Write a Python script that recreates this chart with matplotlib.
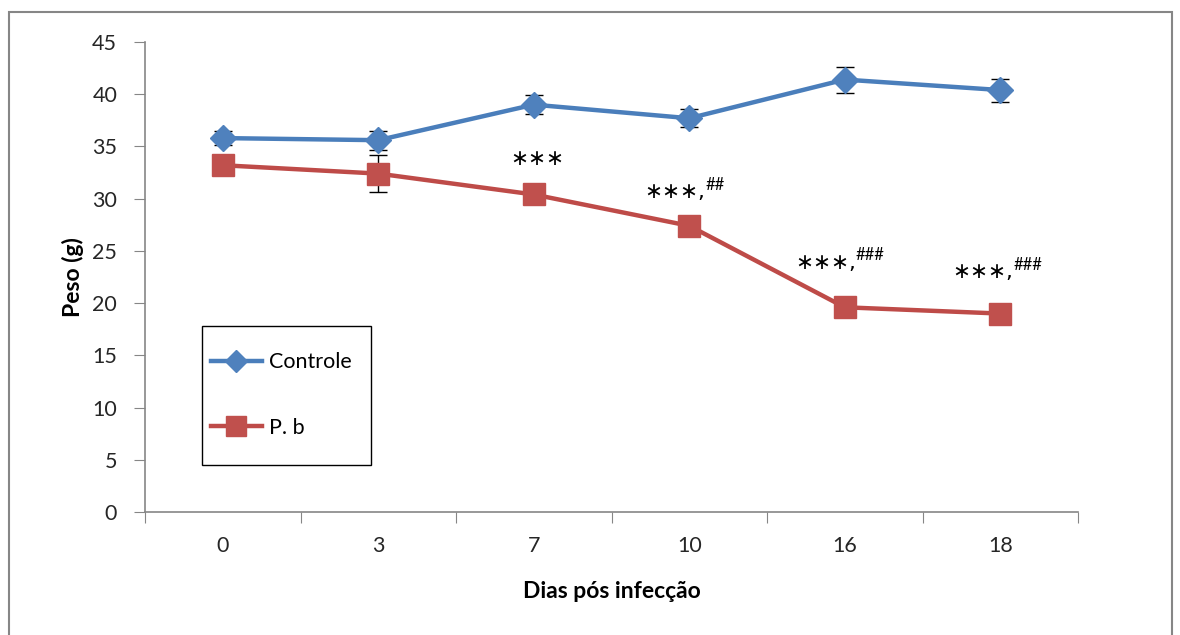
import numpy as np
import matplotlib.pyplot as plt
from matplotlib.patches import Rectangle

# Dados: peso médio (g) por dia pós infecção
dias = ['0', '3', '7', '10', '16', '18']
controle = [35.8, 35.6, 39.0, 37.7, 41.4, 40.4]
controle_err = [0.7, 0.9, 0.9, 0.85, 1.25, 1.1]
pb = [33.2, 32.4, 30.4, 27.4, 19.6, 19.0]
pb_err = [0.6, 1.8, 0.5, 0.6, 0.7, 0.95]

# Marcas de significância para o grupo P. b
estrelas = ['', '', '***', '***,', '***,', '***,']
cerquilhas = ['', '', '', '##', '###', '###']

plt.rcParams['font.family'] = ['Lato', 'DejaVu Sans']

fig = plt.figure(figsize=(11.8, 6.35), dpi=100)
ax = fig.add_axes([145 / 1180, 1 - 512 / 635, 933 / 1180, 470 / 635])

x = np.arange(len(dias))
azul, azul_m = '#4A7EBB', '#4F81BD'
verm, verm_m = '#BE4B48', '#C0504D'

ax.errorbar(x, controle, yerr=controle_err, fmt='none', ecolor='black',
            elinewidth=1, capsize=6.5, capthick=1, zorder=2)
ax.errorbar(x, pb, yerr=pb_err, fmt='none', ecolor='black',
            elinewidth=1, capsize=6.5, capthick=1, zorder=2)
ax.plot(x, controle, color=azul, lw=3.2, marker='D', ms=13,
        mfc=azul_m, mec=azul_m, label='Controle', zorder=3)
ax.plot(x, pb, color=verm, lw=3.2, marker='s', ms=15.5,
        mfc=verm_m, mec=verm_m, label='P. b', zorder=3)

# Asteriscos e cerquilhas acima dos pontos
desloc_est = [(0, 0), (0, 0), (4, 35), (-45, 34), (-49, 44), (-48, 42)]
desloc_cer = [(0, 0), (0, 0), (0, 0), (16, 41), (11, 52), (13, 49)]
for i in range(len(dias)):
    if estrelas[i]:
        ha = 'center' if not cerquilhas[i] else 'left'
        ax.annotate(estrelas[i].replace('*', '\u2217'), xy=(x[i], pb[i]),
                    xytext=desloc_est[i], textcoords='offset pixels',
                    ha=ha, va='center', fontsize=15.5, family='DejaVu Sans')
    if cerquilhas[i]:
        ax.annotate(cerquilhas[i], xy=(x[i], pb[i]),
                    xytext=desloc_cer[i], textcoords='offset pixels',
                    ha='left', va='center', fontsize=12)

cinza = '#868686'
ax.set_xlim(-0.5, len(dias) - 0.5)
ax.set_ylim(0, 45)
ax.set_yticks(np.arange(0, 46, 5))
ax.set_xticks(np.arange(-0.5, len(dias)), labels=[''] * (len(dias) + 1))
ax.set_xticks(x, labels=dias, minor=True)
ax.tick_params(axis='x', which='major', length=8, color=cinza, direction='out')
ax.tick_params(axis='x', which='minor', length=0, pad=17,
               labelsize=15.5, labelcolor='#262626')
ax.tick_params(axis='y', length=8, color=cinza, pad=12,
               labelsize=15.5, labelcolor='#262626')
for s in ['top', 'right']:
    ax.spines[s].set_visible(False)
for s in ['left', 'bottom']:
    ax.spines[s].set_color(cinza)
    ax.spines[s].set_linewidth(1.2)

ax.set_ylabel('Peso (g)', fontsize=16.5, fontweight='bold', labelpad=6)
ax.set_xlabel('Dias pós infecção', fontsize=16.5, fontweight='bold', labelpad=18)

# Caixa da legenda
fig.patches.append(Rectangle((202 / 1180, 1 - 465 / 635), 169 / 1180, 139 / 635,
                             transform=fig.transFigure, fill=False,
                             edgecolor='black', lw=1))
ax.legend(loc='center', bbox_to_anchor=(281 / 1180, 1 - 395 / 635),
          bbox_transform=fig.transFigure, frameon=False, fontsize=15.5,
          handlelength=2.4, handletextpad=0.3, labelspacing=2.1,
          markerscale=0.9)

# Borda externa do gráfico
fig.patches.append(Rectangle((9 / 1180, -0.1), 1163 / 1180, 1.1 - 12 / 635,
                             transform=fig.transFigure, fill=False,
                             edgecolor=cinza, lw=1.5))

fig.savefig('out.png', dpi=100)
